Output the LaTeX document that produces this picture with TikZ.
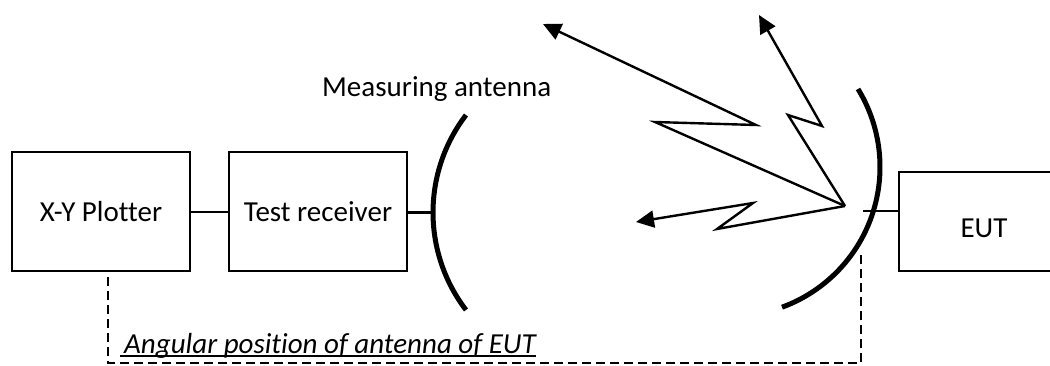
\documentclass[tikz,border=0pt]{standalone}
\usepackage{fontspec}
\setmainfont{Carlito}[Ligatures={NoCommon}]
\usetikzlibrary{arrows.meta}
\tikzset{
  box/.style={draw, line width=2.4pt, minimum width=178pt, minimum height=119pt, inner sep=0pt,
    font=\fontsize{29}{34}\selectfont, text height=19pt, text depth=0pt},
  thin/.style={line width=2.4pt},
  antenna/.style={line width=5pt},
  ray/.style={line width=2.4pt, -{Triangle[length=18pt,width=17pt]}},
  meas/.style={draw, line width=2.4pt, dash pattern=on 9pt off 5pt},
  lbl/.style={inner sep=0pt, font=\fontsize{29}{34}\selectfont}
}
\begin{document}
\begin{tikzpicture}[x=1pt,y=-1pt]
\useasboundingbox[fill=white] (0,0) rectangle (1050,365);
% boxes
\node[box] (xy) at (101,211.5) {X-Y Plotter};
\node[box] (tr) at (318,211.5) {Test receiver};
\node[box, minimum width=170pt, minimum height=99pt, text height=32pt] (eut) at (984,221.5) {EUT};
% antennas
\coordinate (c1) at (593.5,212.5);
\coordinate (c2) at (730.7,167);
\draw[antenna] ([shift={(142.6:160.5pt)}]c1) arc[start angle=142.6, end angle=217.4, radius=160.5pt];
\draw[antenna] ([shift={(-69.9:149.3pt)}]c2) arc[start angle=-69.9, end angle=31.5, radius=149.3pt];
\coordinate (a1) at ([shift={(180:160.5pt)}]c1);
\coordinate (a2) at (863,211);
% connectors
\draw[thin] (xy.east |- 0,212) -- (tr.west |- 0,212);
\draw[thin] (tr.east |- a1) -- (a1);
\draw[thin] (a2) -- (eut.west |- a2);
% label
\node[lbl, anchor=base west] (ma) at (322,96) {Measuring antenna};
% rays
\coordinate (apex) at (845,206);
\coordinate (t1) at (543,24);
\coordinate (t2) at (759,15);
\coordinate (t3) at (636,222);
\draw[ray] (apex) -- (655,122) -- (756,125) -- (t1);
\draw[ray] (apex) -- (788,115) -- (822,126) -- (t2);
\draw[ray] (apex) -- (717,229) -- (753,203) -- (t3);
% measurement link
\coordinate (d0) at (108,277);
\coordinate (d1) at (861,253);
\draw[meas] (d0) -- (108,363) -- (861,363) -- (d1);
\node[lbl, anchor=base west, font=\fontsize{29}{34}\selectfont\itshape] (ang) at (124,353) {Angular position of antenna of EUT};
\draw[line width=1.8pt] ([xshift=-4pt,yshift=-3pt]ang.base west) -- ([yshift=-3pt]ang.base east);
\end{tikzpicture}
\end{document}
